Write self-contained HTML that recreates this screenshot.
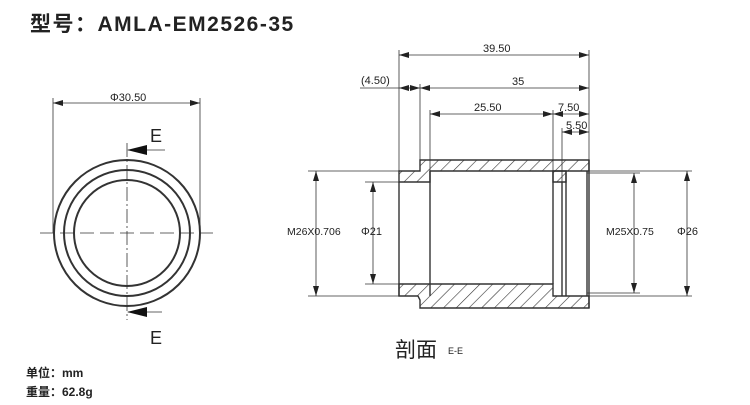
<!DOCTYPE html>
<html><head><meta charset="utf-8"><style>
html,body{margin:0;padding:0;background:#fff;}
svg{display:block;}
text{font-family:"Liberation Sans","Noto Sans CJK SC",sans-serif;fill:#222;}
</style></head><body>
<svg width="750" height="405" viewBox="0 0 750 405" xmlns="http://www.w3.org/2000/svg">
<defs>
<marker id="a" viewBox="0 0 10 6" refX="10" refY="3" markerWidth="10" markerHeight="6" orient="auto-start-reverse" markerUnits="userSpaceOnUse"><path d="M0,0 L10,3 L0,6 z" fill="#222"/></marker>
<pattern id="h" patternUnits="userSpaceOnUse" width="9" height="9" patternTransform="rotate(45)"><line x1="0" y1="0" x2="0" y2="9" stroke="#333" stroke-width="1.2"/></pattern>
</defs>
<text x="30" y="31" font-size="21" font-weight="bold" letter-spacing="1.5">型号：AMLA-EM2526-35</text>

<!-- front view -->
<g stroke="#333" fill="none" stroke-width="2">
<circle cx="127" cy="233" r="73"/>
<circle cx="127" cy="233" r="63"/>
<circle cx="127" cy="233" r="53"/>
</g>
<g stroke="#333" stroke-width="0.8" fill="none">
<line x1="40" y1="233" x2="213" y2="233" stroke-dasharray="14,6"/>
<line x1="127" y1="143" x2="127" y2="320" stroke-dasharray="14,3,2,3"/>
<line x1="53" y1="98" x2="53" y2="233"/>
<line x1="200" y1="98" x2="200" y2="233"/>
<line x1="53" y1="103" x2="200" y2="103" marker-start="url(#a)" marker-end="url(#a)"/>
<line x1="165" y1="150" x2="128" y2="150"/>
<line x1="162" y1="312" x2="128" y2="312"/>
</g>
<path d="M127,150 L147,145 L147,155 z" fill="#111"/>
<path d="M127,312 L147,307 L147,317 z" fill="#111"/>
<text x="110" y="101" font-size="11">Φ30.50</text>
<text x="150" y="142" font-size="18">E</text>
<text x="150" y="344" font-size="18">E</text>

<!-- section -->
<g fill="url(#h)" stroke="#333" stroke-width="1.4">
<path d="M420,160 L589,160 L589,171 L430,171 L430,182 L399,182 L399,171 L420,171 z"/>
<path d="M399,284 L553,284 L553,296 L589,296 L589,308 L420,308 L420,300 L418,296 L399,296 z"/>
<path d="M553,171 L566,171 L566,182 L553,182 z"/>
</g>
<g stroke="#333" stroke-width="1.4" fill="none">
<line x1="430" y1="171" x2="430" y2="296"/>
<line x1="399" y1="182" x2="399" y2="296"/>
<line x1="553" y1="171" x2="553" y2="284"/>
<line x1="562" y1="182" x2="562" y2="296"/>
<line x1="566" y1="171" x2="566" y2="296"/>
<line x1="587" y1="171" x2="587" y2="296"/>
<line x1="589" y1="160" x2="589" y2="308"/>
</g>
<g stroke="#333" stroke-width="0.8" fill="none">
<line x1="399" y1="50" x2="399" y2="171"/>
<line x1="420" y1="84" x2="420" y2="160"/>
<line x1="430" y1="110" x2="430" y2="171"/>
<line x1="553" y1="110" x2="553" y2="171"/>
<line x1="562" y1="128" x2="562" y2="182"/>
<line x1="589" y1="50" x2="589" y2="160"/>
<line x1="399" y1="55" x2="589" y2="55" marker-start="url(#a)" marker-end="url(#a)"/>
<line x1="360" y1="88" x2="399" y2="88"/>
<line x1="399" y1="88" x2="420" y2="88" marker-start="url(#a)" marker-end="url(#a)"/>
<line x1="420" y1="88" x2="589" y2="88" marker-start="url(#a)" marker-end="url(#a)"/>
<line x1="430" y1="114" x2="553" y2="114" marker-start="url(#a)" marker-end="url(#a)"/>
<line x1="553" y1="114" x2="589" y2="114" marker-start="url(#a)" marker-end="url(#a)"/>
<line x1="562" y1="132" x2="589" y2="132" marker-start="url(#a)" marker-end="url(#a)"/>
<line x1="308" y1="171" x2="399" y2="171"/>
<line x1="308" y1="296" x2="399" y2="296"/>
<line x1="365" y1="182" x2="399" y2="182"/>
<line x1="365" y1="284" x2="399" y2="284"/>
<line x1="316" y1="171" x2="316" y2="296" marker-start="url(#a)" marker-end="url(#a)"/>
<line x1="373" y1="182" x2="373" y2="284" marker-start="url(#a)" marker-end="url(#a)"/>
<line x1="589" y1="171" x2="692" y2="171"/>
<line x1="589" y1="296" x2="692" y2="296"/>
<line x1="587" y1="173" x2="640" y2="173"/>
<line x1="587" y1="293" x2="640" y2="293"/>
<line x1="634" y1="173" x2="634" y2="293" marker-start="url(#a)" marker-end="url(#a)"/>
<line x1="687" y1="171" x2="687" y2="296" marker-start="url(#a)" marker-end="url(#a)"/>
</g>
<text x="483" y="52" font-size="11">39.50</text>
<text x="361" y="84" font-size="11">(4.50)</text>
<text x="512" y="85" font-size="11">35</text>
<text x="474" y="111" font-size="11">25.50</text>
<text x="558" y="111" font-size="11">7.50</text>
<text x="566" y="129" font-size="11">5.50</text>
<text x="287" y="235" font-size="10.5">M26X0.706</text>
<text x="361" y="235" font-size="11">Φ21</text>
<text x="606" y="235" font-size="10.5">M25X0.75</text>
<text x="677" y="235" font-size="11">Φ26</text>
<text x="395" y="357" font-size="21">剖面</text>
<text x="448" y="354" font-size="9">E-E</text>
<text x="26" y="377" font-size="12" font-weight="bold">单位：mm</text>
<text x="26" y="396" font-size="12" font-weight="bold">重量：62.8g</text>
</svg>
</body></html>
